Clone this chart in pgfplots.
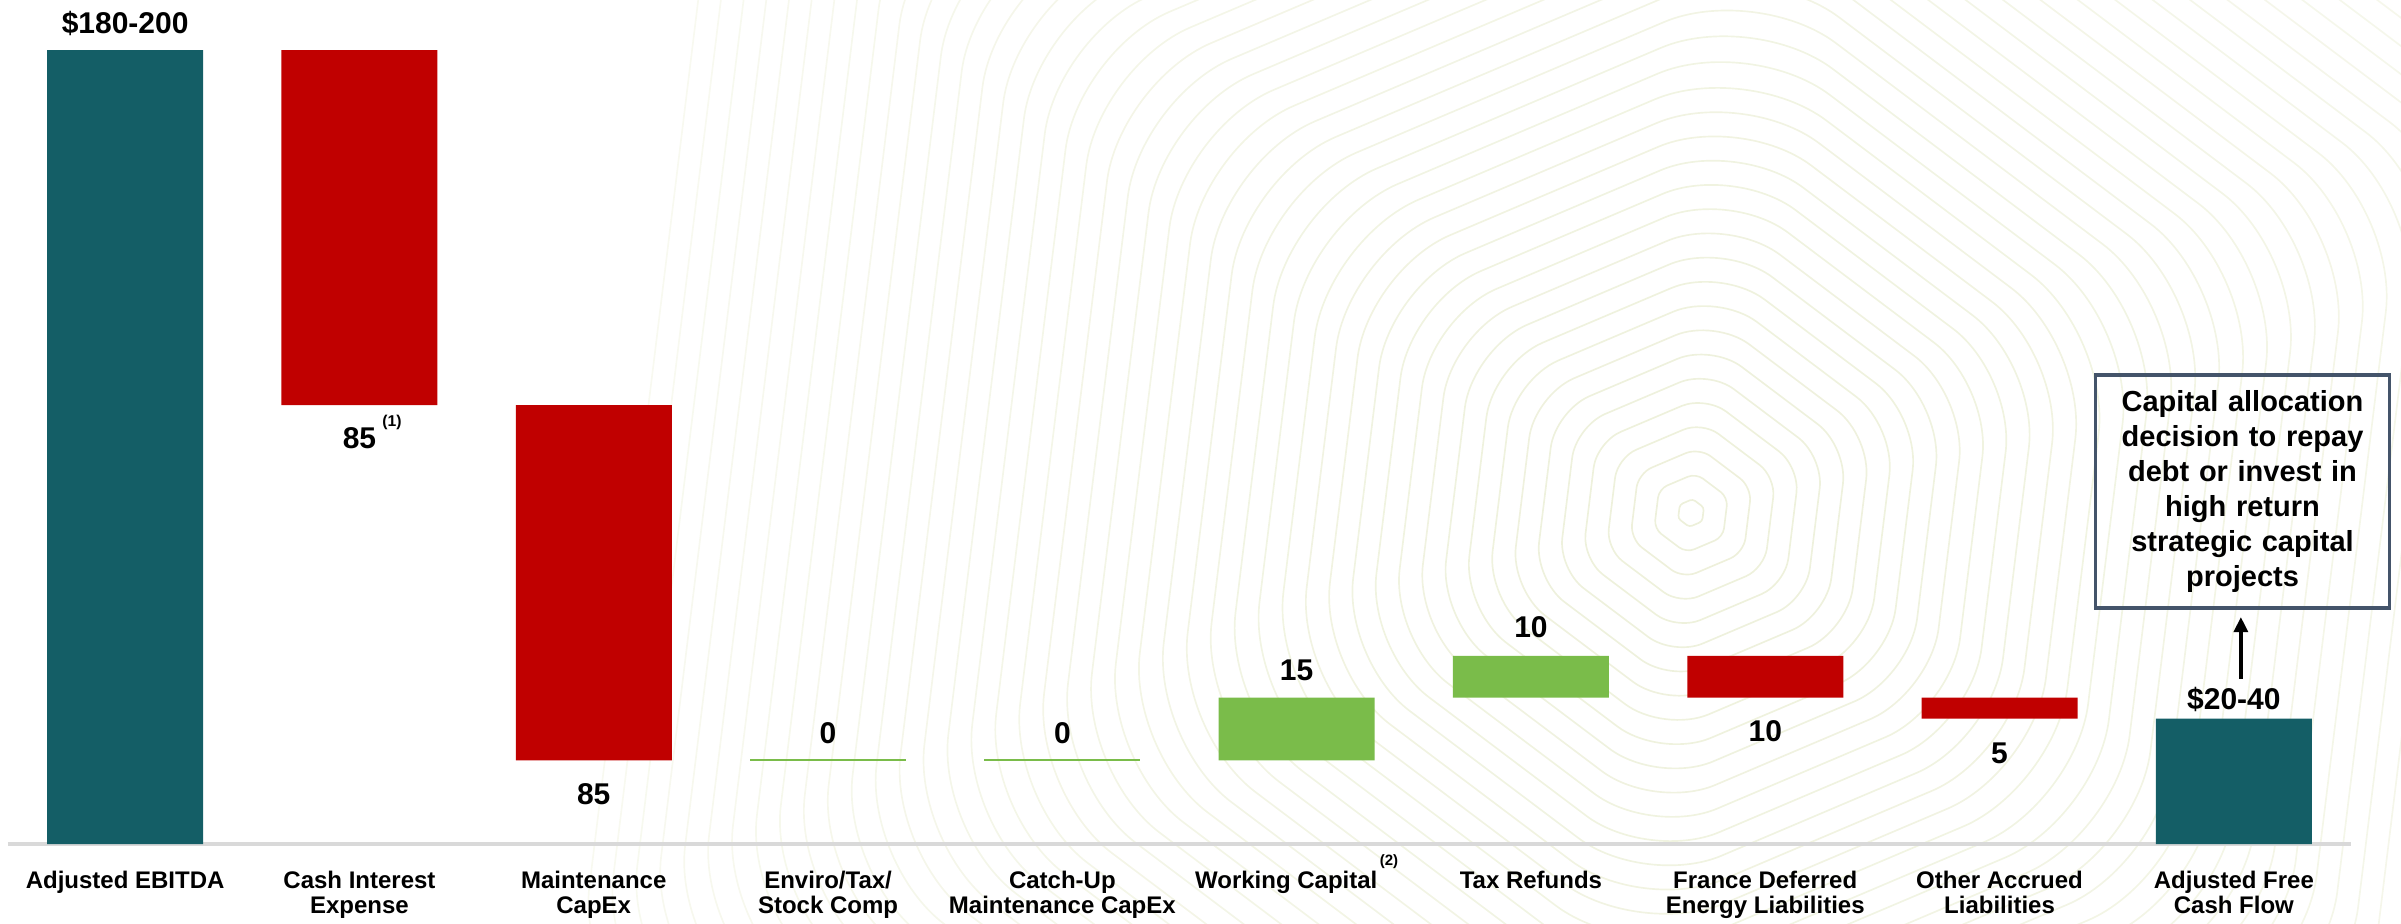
\documentclass[border=0pt]{standalone}
\usepackage{pgfplots}
\pgfplotsset{compat=1.18}
\usepackage{fontspec}
\setmainfont{Liberation Sans}
\usetikzlibrary{arrows.meta}
\definecolor{tealc}{RGB}{20,94,102}
\definecolor{redc}{RGB}{192,0,0}
\definecolor{greenc}{RGB}{122,188,74}
\definecolor{axgray}{RGB}{217,217,217}
\definecolor{boxc}{RGB}{68,84,106}
\definecolor{ringc}{RGB}{237,240,218}

\begin{document}
\begin{tikzpicture}
\useasboundingbox (-2.4pt,-23.7pt) rectangle (717.9pt,253.2pt);
% faint decorative background rings
\begin{scope}
\clip (-2.4pt,-23.7pt) rectangle (717.9pt,253.2pt);
\begin{scope}[shift={(504.9pt,99.3pt)}]
\foreach \i in {0,...,46} {
  \pgfmathsetmacro\r{4.2+7.8*\i}
  \pgfmathsetmacro\rc{min(0.22*\r,30)}
  \pgfmathtruncatemacro\p{100-1.3*\i}
  \draw[ringc!\p!white, line width=0.5pt, rounded corners=\rc pt]
    (83:\r pt) -- (23:\r pt) -- (-37:\r pt) -- (-97:\r pt) -- (-157:\r pt) -- (143:\r pt) -- cycle;
}
\end{scope}
\end{scope}
\pgfplotsset{
  common/.style={
    width=702.9pt, height=238.2pt, scale only axis,
    xmin=-0.5, xmax=9.5, ymin=0, ymax=190,
    clip=false, at={(0,0)}, anchor=south west,
  },
}
\tikzset{
  lab/.style={font=\fontsize{9}{10.5}\selectfont\bfseries, inner sep=0pt},
}
\begin{axis}[common,
  ybar stacked, bar width=46.8pt,
  axis y line=none,
  axis x line*=bottom,
  x axis line style={draw=axgray, line width=1pt, -},
  xtick={0,...,9}, major tick length=0pt, tick style={draw=none},
  xticklabels={
    {Adjusted EBITDA},
    {Cash Interest\\Expense},
    {Maintenance\\CapEx},
    {Enviro/Tax/\\Stock Comp},
    {Catch-Up\\Maintenance CapEx},
    {Working Capital\smash{\raisebox{7pt}{\fontsize{4.5}{5}\selectfont\,(2)}}},
    {Tax Refunds},
    {France Deferred\\Energy Liabilities},
    {Other Accrued\\Liabilities},
    {Adjusted Free\\Cash Flow}},
  xticklabel style={font=\fontsize{7.2}{7.5}\selectfont\bfseries, align=center, anchor=north, inner sep=0pt, yshift=-8pt},
]
% invisible base
\addplot[fill=none, draw=none] coordinates {(0,0) (1,105) (2,20) (3,20) (4,20) (5,20) (6,35) (7,35) (8,30) (9,0)};
% teal totals
\addplot[fill=tealc, draw=none] coordinates {(0,190) (1,0) (2,0) (3,0) (4,0) (5,0) (6,0) (7,0) (8,0) (9,30)};
% red decreases
\addplot[fill=redc, draw=none] coordinates {(0,0) (1,85) (2,85) (3,0) (4,0) (5,0) (6,0) (7,10) (8,5) (9,0)};
% green increases
\addplot[fill=greenc, draw=none] coordinates {(0,0) (1,0) (2,0) (3,0) (4,0) (5,15) (6,10) (7,0) (8,0) (9,0)};
\end{axis}

\begin{axis}[common, hide axis]
% zero-change steps drawn as thin lines
\addplot[greenc, line width=0.6pt] coordinates {(2.667,20) (3.333,20)};
\addplot[greenc, line width=0.6pt] coordinates {(3.667,20) (4.333,20)};

\node[lab, anchor=base, yshift=5pt] at (0,190) {\$180-200};
\node[lab, anchor=north, yshift=-6.6pt] (a) at (1,105) {85};
\node[inner sep=0pt, anchor=south west, font=\fontsize{4.7}{5}\selectfont\bfseries] at ([xshift=1.5pt, yshift=-1pt]a.north east) {(1)};
\node[lab, anchor=north, yshift=-6.6pt] at (2,20) {85};
\node[lab, anchor=base, yshift=5.2pt] at (3,20) {0};
\node[lab, anchor=base, yshift=5.2pt] at (4,20) {0};
\node[lab, anchor=base, yshift=5.2pt] at (5,35) {15};
\node[lab, anchor=base, yshift=5.4pt] at (6,45) {10};
\node[lab, anchor=north, yshift=-6.6pt] at (7,35) {10};
\node[lab, anchor=north, yshift=-7pt] at (8,30) {5};
\node[lab, anchor=base, yshift=2.8pt] at (9,30) {\$20-40};

\draw[line width=1pt, -{Triangle[length=4.5pt,width=4.2pt]}] (9.03,39.5) -- (9.03,54.3);
\node[draw=boxc, line width=1.1pt, align=center, text width=86pt, minimum width=88.2pt, minimum height=69.9pt, inner sep=0pt, font=\fontsize{8.7}{10.5}\selectfont\bfseries] at (9.037,84.3)
  {Capital allocation\\decision to repay\\debt or invest in\\high return\\strategic capital\\projects};
\end{axis}
\end{tikzpicture}
\end{document}
